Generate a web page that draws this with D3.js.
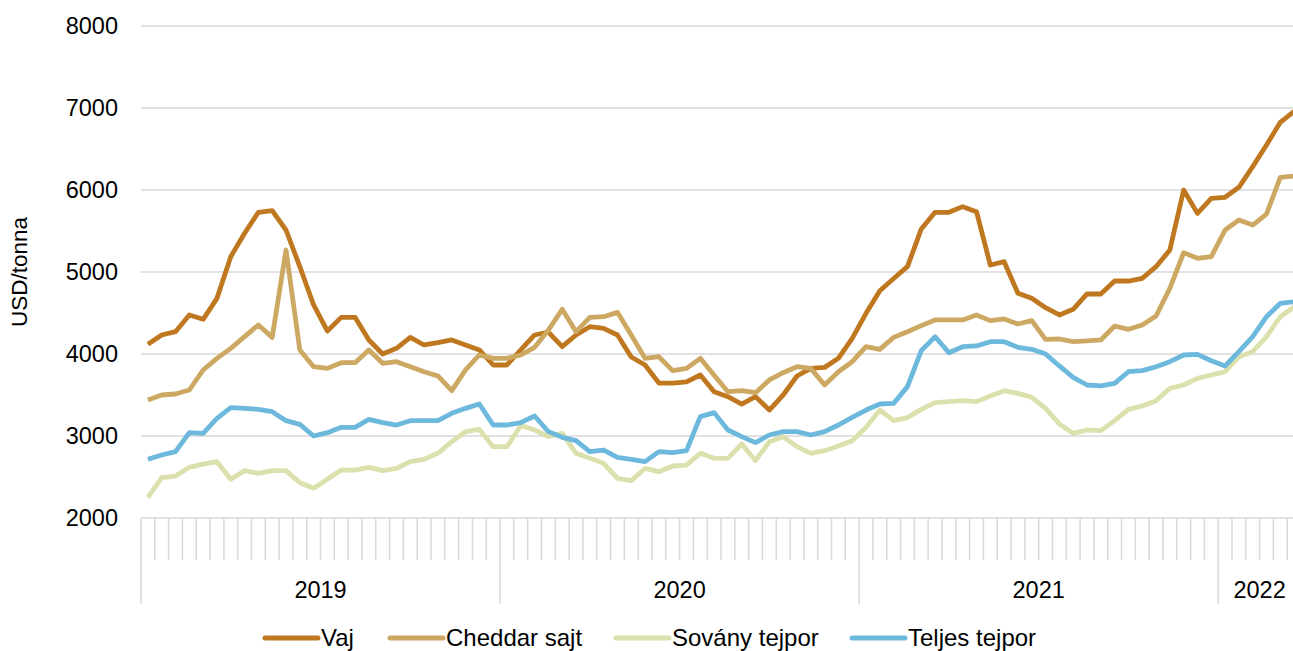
<!DOCTYPE html>
<html>
<head>
<meta charset="utf-8">
<script src="https://cdn.jsdelivr.net/npm/d3@7"></script>
<style>
  body { margin: 0; background: #fff; }
  svg { display: block; font-family: "Liberation Sans", Arial, sans-serif; }
</style>
</head>
<body>
<svg id="chart" width="1293" height="651"></svg>
<script>
// years shown on the axis and how many auctions fall in each
var years = ["2019", "2020", "2021", "2022"];
var perYear = [26, 26, 26, 6];

var yTicks = [2000, 3000, 4000, 5000, 6000, 7000, 8000];

var vaj = [
  4118, 4232, 4272, 4476, 4423, 4679, 5187, 5472, 5728, 5748, 5512, 5065, 4598, 4280, 4447, 4447, 4171, 4000, 4069, 4203, 4110, 4138, 4171, 4110, 4049, 3866,
  3866, 4049, 4232, 4268, 4089, 4232, 4333, 4313, 4232, 3963, 3866, 3646, 3646, 3660, 3744, 3540, 3480, 3390, 3480, 3317, 3500, 3732, 3825, 3837, 3947, 4191,
  4496, 4772, 4920, 5065, 5524, 5728, 5728, 5797, 5736, 5085, 5126, 4740, 4679, 4565, 4476, 4545, 4732, 4732, 4890, 4890, 4923, 5065, 5268, 6000, 5715, 5898,
  5911, 6033, 6285, 6549, 6826, 6960
];
var cheddar = [
  3439, 3500, 3512, 3561, 3805, 3947, 4069, 4211, 4354, 4203, 5268, 4049, 3845, 3825, 3894, 3894, 4049, 3886, 3906, 3845, 3784, 3732, 3553, 3805, 3988, 3947,
  3947, 3988, 4081, 4293, 4545, 4272, 4447, 4455, 4508, 4232, 3947, 3967, 3797, 3825, 3947, 3740, 3540, 3553, 3528, 3683, 3772, 3845, 3825, 3622, 3784, 3906,
  4089, 4057, 4203, 4272, 4346, 4415, 4415, 4415, 4476, 4407, 4427, 4366, 4407, 4179, 4183, 4150, 4159, 4171, 4341, 4301, 4354, 4463, 4801, 5236, 5167, 5187,
  5512, 5634, 5573, 5707, 6155, 6171
];
var sovany = [
  2252, 2492, 2512, 2618, 2658, 2687, 2472, 2577, 2545, 2577, 2577, 2431, 2362, 2472, 2585, 2585, 2618, 2577, 2606, 2687, 2716, 2789, 2931, 3053, 3081, 2870,
  2870, 3128, 3073, 2992, 3032, 2789, 2728, 2667, 2484, 2455, 2606, 2565, 2634, 2646, 2789, 2728, 2728, 2902, 2699, 2931, 2992, 2870, 2789, 2821, 2878, 2943,
  3106, 3317, 3187, 3224, 3325, 3407, 3419, 3431, 3419, 3488, 3553, 3520, 3472, 3337, 3146, 3032, 3073, 3065, 3187, 3325, 3366, 3431, 3581, 3622, 3703, 3744,
  3784, 3967, 4028, 4211, 4455, 4577
];
var teljes = [
  2716, 2768, 2809, 3041, 3032, 3215, 3345, 3337, 3325, 3297, 3187, 3142, 3000, 3041, 3106, 3106, 3203, 3163, 3134, 3187, 3187, 3187, 3276, 3337, 3390, 3134,
  3134, 3163, 3244, 3053, 2984, 2943, 2809, 2829, 2740, 2716, 2687, 2809, 2797, 2821, 3236, 3285, 3073, 2992, 2919, 3012, 3053, 3053, 3012, 3053, 3134, 3228,
  3317, 3390, 3398, 3602, 4041, 4211, 4016, 4089, 4098, 4150, 4150, 4081, 4057, 4000, 3854, 3715, 3622, 3610, 3642, 3784, 3797, 3845, 3906, 3988, 3996, 3918,
  3854, 4028, 4211, 4455, 4618, 4638
];

var seriesNames = ["Vaj", "Cheddar sajt", "Sovány tejpor", "Teljes tejpor"];
var seriesColors = ["#BF781F", "#CCA862", "#DCE0AD", "#6DB8DD"];
var seriesData = [vaj, cheddar, sovany, teljes];

var svg = d3.select("#chart");

var n = d3.sum(perYear);
var idx = d3.range(n);

var x = d3.scaleBand()
  .domain(idx)
  .range([141, 141 + n * 13.81])
  .padding(0);

var y = d3.scaleLinear()
  .domain([2000, 8000])
  .range([518, 26]);

// gridlines
svg.append("g")
  .selectAll("line")
  .data(yTicks)
  .enter()
  .append("line")
  .attr("x1", 141)
  .attr("x2", 1293)
  .attr("y1", function(d) { return y(d); })
  .attr("y2", function(d) { return y(d); })
  .attr("stroke", "#D9D9D9")
  .attr("stroke-width", 1.5);

// y tick labels
svg.append("g")
  .selectAll("text")
  .data(yTicks)
  .enter()
  .append("text")
  .attr("x", 118)
  .attr("y", function(d) { return y(d); })
  .attr("dy", "0.35em")
  .attr("text-anchor", "end")
  .attr("font-size", 23.5)
  .attr("fill", "#000")
  .text(function(d) { return d; });

svg.append("text")
  .attr("transform", "translate(19,272) rotate(-90)")
  .attr("dy", "0.35em")
  .attr("text-anchor", "middle")
  .attr("font-size", 22.5)
  .text("USD/tonna");

// year boundaries
var starts = [0];
perYear.forEach(function(c, i) { starts.push(starts[i] + c); });

function edge(i) {
  return i < n ? x(i) : x(n - 1) + x.bandwidth();
}

// small ticks at every auction
svg.append("g")
  .selectAll("line")
  .data(d3.range(n + 1))
  .enter()
  .append("line")
  .attr("x1", function(d) { return edge(d); })
  .attr("x2", function(d) { return edge(d); })
  .attr("y1", 518)
  .attr("y2", function(d) { return starts.indexOf(d) >= 0 ? 604 : 560; })
  .attr("stroke", "#D9D9D9")
  .attr("stroke-width", 1.5);

svg.append("g")
  .selectAll("text")
  .data(years)
  .enter()
  .append("text")
  .attr("x", function(d, i) { return (edge(starts[i]) + edge(starts[i + 1])) / 2; })
  .attr("y", 598)
  .attr("text-anchor", "middle")
  .attr("font-size", 23.5)
  .text(function(d) { return d; });

// the lines
var line = d3.line()
  .x(function(d, i) { return x(i) + x.bandwidth() / 2; })
  .y(function(d) { return y(d); });

svg.append("g")
  .selectAll("path")
  .data(seriesData)
  .enter()
  .append("path")
  .attr("d", line)
  .attr("fill", "none")
  .attr("stroke", function(d, i) { return seriesColors[i]; })
  .attr("stroke-width", 4.8)
  .attr("stroke-linejoin", "round");

// legend
var legendX = [263, 388, 614, 850];
var lg = svg.append("g")
  .selectAll("g")
  .data(seriesNames)
  .enter()
  .append("g")
  .attr("transform", function(d, i) { return "translate(" + legendX[i] + ",638)"; });

lg.append("line")
  .attr("x1", 2)
  .attr("x2", 55)
  .attr("stroke", function(d, i) { return seriesColors[i]; })
  .attr("stroke-width", 5)
  .attr("stroke-linecap", "round");

lg.append("text")
  .attr("x", 58)
  .attr("dy", "0.35em")
  .attr("font-size", 24)
  .text(function(d) { return d; });
</script>
</body>
</html>
